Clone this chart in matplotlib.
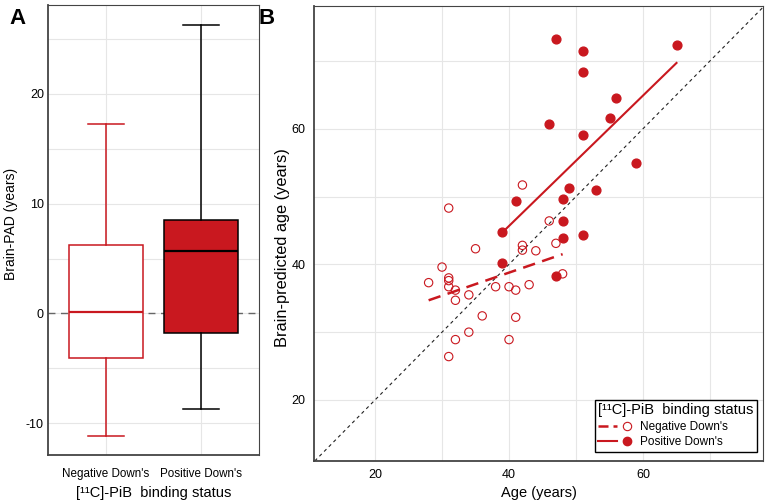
import matplotlib.pyplot as plt
from matplotlib.lines import Line2D
from matplotlib.legend_handler import HandlerTuple
from matplotlib.ticker import MultipleLocator

plt.rcParams['font.family'] = ['Liberation Sans', 'DejaVu Sans']
plt.rcParams['axes.unicode_minus'] = False

RED = '#C9181F'
GRID = '#E6E6E6'

# panel A: box plot summaries (years)
groups = ["Negative Down's", "Positive Down's"]
whislo = [-11.2, -8.7]
q1 = [-4.1, -1.8]
med = [0.1, 5.7]
q3 = [6.2, 8.5]
whishi = [17.3, 26.3]

# panel B: chronological vs brain-predicted age
neg_age = [42, 31, 46, 47, 42, 42, 44, 35, 30, 31, 31, 31, 28, 32, 32, 34,
           38, 40, 41, 43, 48, 36, 41, 34, 32, 40, 31]
neg_pred = [51.7, 48.3, 46.4, 43.1, 42.8, 42.1, 42.0, 42.3, 39.6, 38.0, 37.6,
            36.7, 37.3, 36.2, 34.7, 35.5, 36.7, 36.7, 36.2, 37.0, 38.6, 32.4,
            32.2, 30.0, 28.9, 28.9, 26.4]
pos_age = [47, 51, 51, 65, 56, 55, 46, 51, 59, 49, 53, 48, 41, 48, 39, 48, 51,
           39, 47]
pos_pred = [73.2, 71.5, 68.3, 72.4, 64.5, 61.6, 60.7, 59.1, 55.0, 51.2, 51.0,
            49.7, 49.4, 46.4, 44.7, 43.9, 44.4, 40.2, 38.3]

# fitted lines
neg_fit_age = [28, 48]
neg_fit_pred = [34.7, 41.5]
pos_fit_age = [39, 65]
pos_fit_pred = [44.7, 69.7]

status_title = '[\u00b9\u00b9C]-PiB  binding status'

fig = plt.figure(figsize=(7.66, 5.03), dpi=100)
axA = fig.add_axes([0.0627, 0.0954, 0.2755, 0.8946])
axB = fig.add_axes([0.41, 0.0835, 0.586, 0.9046])


def style_axes(ax):
    ax.grid(True, which='both', color=GRID, lw=0.8)
    ax.set_axisbelow(True)
    ax.tick_params(which='both', length=0, labelsize=9, pad=6)
    for s in ax.spines.values():
        s.set_color('#444444')
        s.set_linewidth(0.8)
    ax.spines['left'].set_linewidth(1.3)
    ax.spines['bottom'].set_linewidth(1.3)


# ---- panel A ----
stats = []
for i in range(2):
    stats.append(dict(label=groups[i], whislo=whislo[i], q1=q1[i], med=med[i],
                      q3=q3[i], whishi=whishi[i], fliers=[]))

style_axes(axA)
axA.axhline(0, color='#666666', ls=(0, (5, 4)), lw=1, zorder=1)
for i, face, edge in [(0, 'white', RED), (1, RED, 'black')]:
    axA.bxp([stats[i]], positions=[i + 1], widths=0.77, capwidths=0.38,
            patch_artist=True, showfliers=False,
            boxprops=dict(facecolor=face, edgecolor=edge, lw=1.1),
            medianprops=dict(color=edge, lw=1.6),
            whiskerprops=dict(color=edge, lw=1.1),
            capprops=dict(color=edge, lw=1.1))
axA.set_xlim(0.39, 2.61)
axA.set_ylim(-12.9, 28.1)
axA.yaxis.set_major_locator(MultipleLocator(10))
axA.yaxis.set_minor_locator(MultipleLocator(5))
axA.set_xticks([1, 2], groups)
axA.tick_params(axis='x', labelsize=8.4, pad=9)
axA.tick_params(axis='y', pad=3)
axA.set_ylabel('Brain-PAD (years)', fontsize=10)
axA.yaxis.set_label_coords(-0.142, 0.513)
axA.set_xlabel(status_title, fontsize=10.5)
axA.xaxis.set_label_coords(0.5, -0.068)

# ---- panel B ----
style_axes(axB)
axB.axline((0, 0), slope=1, color='#222222', ls=(0, (3, 3)), lw=0.8, zorder=1)
axB.scatter(neg_age, neg_pred, s=36, facecolors='none', edgecolors=RED,
            linewidths=0.8, zorder=3)
axB.scatter(pos_age, pos_pred, s=40, color=RED, zorder=3)
axB.plot(neg_fit_age, neg_fit_pred, color=RED, lw=1.8, ls=(0, (5, 3)), zorder=2)
axB.plot(pos_fit_age, pos_fit_pred, color=RED, lw=1.5, zorder=2)
axB.set_xlim(10.9, 77.9)
axB.set_ylim(11, 78.1)
axB.xaxis.set_major_locator(MultipleLocator(20))
axB.xaxis.set_minor_locator(MultipleLocator(10))
axB.yaxis.set_major_locator(MultipleLocator(20))
axB.yaxis.set_minor_locator(MultipleLocator(10))
axB.set_xlabel('Age (years)', fontsize=10.5)
axB.xaxis.set_label_coords(0.5, -0.056)
axB.set_ylabel('Brain-predicted age (years)', fontsize=11.8)
axB.yaxis.set_label_coords(-0.053, 0.468)

h_neg = (Line2D([], [], color=RED, lw=1.8, ls=(0, (4, 2))),
         Line2D([], [], ls='none', marker='o', ms=6, mfc='none', mec=RED, mew=0.8))
h_pos = (Line2D([], [], color=RED, lw=1.5),
         Line2D([], [], ls='none', marker='o', ms=6, color=RED))
leg = axB.legend([h_neg, h_pos], groups,
                 handler_map={tuple: HandlerTuple(ndivide=None, pad=0)},
                 title=status_title, title_fontsize=10.5,
                 fontsize=8.5, loc='lower right', bbox_to_anchor=(0.987, 0.02),
                 borderaxespad=0,
                 handlelength=3.2, handletextpad=0.3, borderpad=0.3,
                 labelspacing=0.3, fancybox=False, framealpha=1)
leg.get_frame().set_edgecolor('black')
leg.get_frame().set_linewidth(1.0)
leg._legend_box.align = 'left'

fig.text(0.012, 0.985, 'A', fontsize=16, fontweight='bold', va='top')
fig.text(0.338, 0.985, 'B', fontsize=16, fontweight='bold', va='top')

fig.savefig('out.png', dpi=100)
